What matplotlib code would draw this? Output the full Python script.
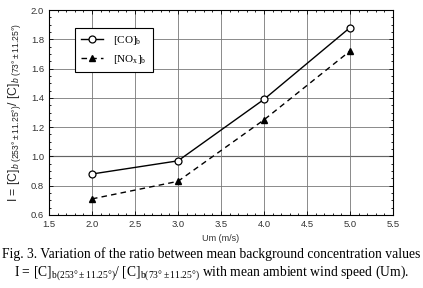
import matplotlib
matplotlib.use('Agg')
import matplotlib.pyplot as plt
from matplotlib.ticker import MultipleLocator

plt.rcParams['font.family'] = ['Liberation Sans', 'DejaVu Sans']
plt.rcParams['mathtext.fontset'] = 'custom'
plt.rcParams['mathtext.rm'] = 'Liberation Sans'
plt.rcParams['mathtext.it'] = 'Liberation Sans:italic'

# data
um = [2.0, 3.0, 4.0, 5.0]
co_ratio = [0.88, 0.97, 1.39, 1.88]
nox_ratio = [0.71, 0.83, 1.25, 1.72]

fig = plt.figure(figsize=(4.23, 2.88), dpi=100)
ax = fig.add_axes([0.1158, 0.2535, 0.8132, 0.7115])

ax.plot(um, co_ratio, '-', color='black', linewidth=1.0, marker='o', markersize=5,
        markerfacecolor='white', markeredgecolor='black', markeredgewidth=0.9,
        label=r'[CO]$_\mathregular{b}$', zorder=3)
ax.plot(um, nox_ratio, '--', color='black', linewidth=1.0, dashes=(4, 3), marker='^',
        markersize=5, markerfacecolor='black', markeredgecolor='black',
        label=r'[NO$_\mathregular{x}$]$_\mathregular{b}$', zorder=3)

ax.set_xlim(1.5, 5.5)
ax.set_ylim(0.6, 2.0)
ax.xaxis.set_major_locator(MultipleLocator(0.5))
ax.xaxis.set_minor_locator(MultipleLocator(0.1))
ax.yaxis.set_major_locator(MultipleLocator(0.2))
ax.yaxis.set_minor_locator(MultipleLocator(0.05))
ax.xaxis.set_major_formatter(plt.FormatStrFormatter('%.1f'))
ax.yaxis.set_major_formatter(plt.FormatStrFormatter('%.1f'))
ax.tick_params(which='both', direction='in', top=True, right=True, labelsize=6.8,
               labelcolor='#333333', width=0.6)
ax.tick_params(which='major', length=3)
ax.tick_params(which='minor', length=1.5)
ax.grid(True, which='major', color='#777777', linewidth=0.6)
ax.axhline(1.0, color='black', linewidth=0.8, zorder=1)
for s in ax.spines.values():
    s.set_linewidth(0.8)

ax.set_xlabel('Um (m/s)', fontsize=6.5, color='#333333', labelpad=4)
ax.set_ylabel(r'I = [C]$_{b\ (253\degree\pm 11.25\degree)}$/ [C]$_{b\ (73\degree\pm 11.25\degree)}$',
              fontsize=8.8, color='#222222', labelpad=6)

leg = ax.legend(loc='upper left', bbox_to_anchor=(0.075, 0.912), borderaxespad=0,
                frameon=True, fancybox=False, edgecolor='black', framealpha=1.0,
                prop={'family': 'Liberation Serif', 'size': 8},
                handlelength=2.0, handletextpad=0.9, borderpad=0.55, labelspacing=0.5)
leg.get_frame().set_linewidth(0.8)

fig.text(0.5, 0.118, 'Fig. 3. Variation of the ratio between mean background concentration values',
         ha='center', va='center', family='Liberation Serif', fontsize=9.8)
fig.text(0.5, 0.052,
         r'I = [C]$_{\mathregular{b(253\degree\pm 11.25\degree)}}$/ [C]$_{\mathregular{b(73\degree\pm 11.25\degree)}}$ with mean ambient wind speed (Um).',
         ha='center', va='center', family='Liberation Serif', fontsize=9.8)

fig.savefig('out.png', dpi=100, facecolor='white')
